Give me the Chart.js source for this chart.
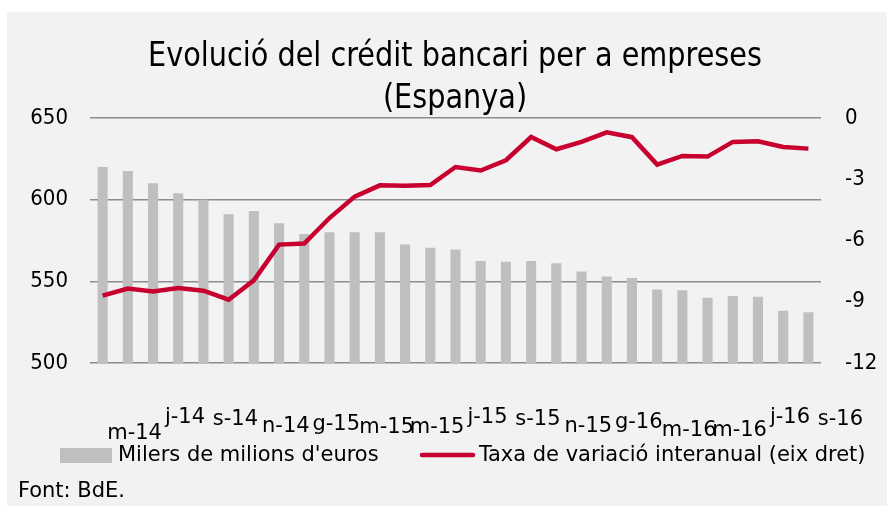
<!DOCTYPE html>
<html>
<head>
<meta charset="utf-8">
<script src="https://cdn.jsdelivr.net/npm/chart.js@4.4.1/dist/chart.umd.min.js"></script>
<style>
  body { margin: 0; background: #ffffff; }
  #wrap { position: absolute; left: 7px; top: 12px; width: 880px; height: 494px; background: #f2f2f2; }
</style>
</head>
<body>
<div id="wrap"><canvas id="chart"></canvas></div>
<script>
// monthly labels (Catalan initials), maig 2014 - setembre 2016
const months = ['m-14','j-14','j-14','a-14','s-14','o-14','n-14','d-14',
  'g-15','f-15','m-15','a-15','m-15','j-15','j-15','a-15','s-15','o-15','n-15','d-15',
  'g-16','f-16','m-16','a-16','m-16','j-16','j-16','a-16','s-16'];

// stock of credit, milers de milions d'euros (left axis)
const stock = [620, 617.5, 610, 604, 600, 591, 593, 585.5, 579, 580, 580, 580, 572.5, 570.5,
  569.5, 562.5, 562, 562.5, 561, 556, 553, 552, 545, 544.5, 540, 541, 540.5, 532, 531];

// year-on-year change, % (right axis)
const variation = [-8.7, -8.35, -8.5, -8.33, -8.46, -8.9, -7.95, -6.2, -6.15, -4.9, -3.85, -3.3,
  -3.32, -3.28, -2.4, -2.57, -2.07, -0.93, -1.53, -1.17, -0.7, -0.94, -2.28, -1.86, -1.89,
  -1.17, -1.14, -1.42, -1.5];

const leftTicks = [500, 550, 600, 650];
const rightTicks = [-12, -9, -6, -3, 0];

const titleLines = ['Evolució del crédit bancari per a empreses', '(Espanya)'];
const seriesNames = ["Milers de milions d'euros", 'Taxa de variació interanual (eix dret)'];
const source = 'Font: BdE.';

const FONT = "'DejaVu Sans Condensed', 'DejaVu Sans', sans-serif";
const RED = '#c8002f';
const GREY = '#bfbfbf';

// the labels sit a little off the ticks and jump up and down, like in the original
const labelShift = 32;
const labelMidY = [421, 405, 407, 414, 412, 415, 415, 405, 407, 414, 410, 418, 418, 405, 407];

const SMALL_SQUEEZE = 1.06;

function text(ctx, str, x, y, size, align, squeeze) {
  ctx.save();
  ctx.font = size + 'px ' + FONT;
  ctx.fillStyle = '#000';
  ctx.textBaseline = 'middle';
  const w = ctx.measureText(str).width * squeeze;
  let x0 = x;
  if (align === 'center') x0 = x - w / 2;
  if (align === 'right') x0 = x - w;
  ctx.translate(x0, y);
  ctx.scale(squeeze, 1);
  ctx.textAlign = 'left';
  ctx.fillText(str, 0, 0);
  ctx.restore();
}

const decorations = {
  id: 'decorations',
  afterDraw(chart) {
    const ctx = chart.ctx;
    ctx.save();
    ctx.font = '34px ' + FONT;
    const titleSqueeze = 614 / ctx.measureText(titleLines[0]).width;
    ctx.restore();

    text(ctx, titleLines[0], 448, 45, 34, 'center', titleSqueeze);
    text(ctx, titleLines[1], 448, 87, 34, 'center', titleSqueeze);

    const x = chart.scales.x;
    let k = 0;
    months.forEach((m, i) => {
      if (i % 2 !== 0) return;
      text(ctx, m, x.getPixelForValue(i) + labelShift, labelMidY[k], 22, 'center', SMALL_SQUEEZE);
      k++;
    });

    // legend
    ctx.fillStyle = GREY;
    ctx.fillRect(53, 436, 52, 15);
    text(ctx, seriesNames[0], 111, 443, 22, 'left', SMALL_SQUEEZE);
    ctx.strokeStyle = RED;
    ctx.lineWidth = 4.5;
    ctx.lineCap = 'round';
    ctx.beginPath();
    ctx.moveTo(415, 443);
    ctx.lineTo(466, 443);
    ctx.stroke();
    text(ctx, seriesNames[1], 472, 443, 22, 'left', SMALL_SQUEEZE);

    text(ctx, source, 11, 479, 22, 'left', SMALL_SQUEEZE);
  }
};

new Chart(document.getElementById('chart'), {
  data: {
    labels: months,
    datasets: [
      {
        type: 'line',
        data: variation,
        yAxisID: 'y1',
        borderColor: RED,
        borderWidth: 4.5,
        pointRadius: 0,
        tension: 0,
        order: 0
      },
      {
        type: 'bar',
        data: stock,
        yAxisID: 'y',
        backgroundColor: GREY,
        barPercentage: 0.4,
        categoryPercentage: 1,
        order: 1
      }
    ]
  },
  options: {
    responsive: true,
    maintainAspectRatio: false,
    devicePixelRatio: 1,
    animation: false,
    layout: { padding: { top: 106, bottom: 143, left: 0, right: 0 } },
    plugins: {
      legend: { display: false },
      tooltip: { enabled: false }
    },
    scales: {
      x: { display: false },
      y: {
        position: 'left',
        min: 500,
        max: 650,
        afterBuildTicks: s => { s.ticks = leftTicks.map(v => ({ value: v })); },
        afterFit: s => { s.width = 83; },
        border: { display: false },
        grid: { color: '#8c8c8c', lineWidth: 1.5, drawTicks: false },
        ticks: { padding: 22, color: '#000', font: { family: FONT, size: 22 } }
      },
      y1: {
        position: 'right',
        min: -12,
        max: 0,
        afterBuildTicks: s => { s.ticks = rightTicks.map(v => ({ value: v })); },
        afterFit: s => { s.width = 66; },
        border: { display: false },
        grid: { display: false, drawTicks: false },
        ticks: { padding: 24, color: '#000', font: { family: FONT, size: 22 } }
      }
    }
  },
  plugins: [decorations]
});
</script>
</body>
</html>
